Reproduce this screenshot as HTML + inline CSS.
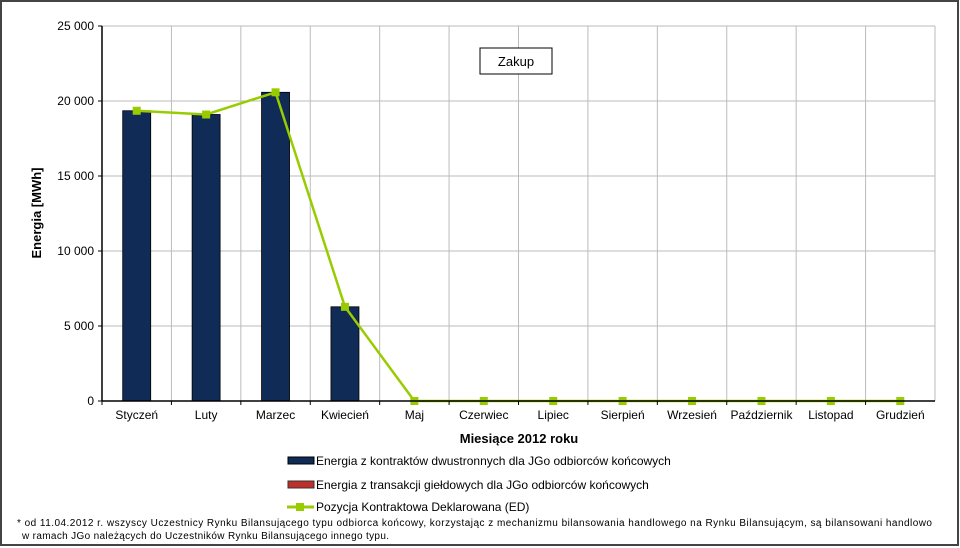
<!DOCTYPE html>
<html><head><meta charset="utf-8"><style>
body{margin:0;background:#fff;}
svg{display:block;font-family:"Liberation Sans",sans-serif;}
</style></head><body>
<svg width="960" height="548" viewBox="0 0 960 548" id="chart">
<rect x="1" y="1" width="957" height="544" fill="#fff" stroke="#444" stroke-width="2"/>
<g id="grid"></g>
<g id="bars"></g>
<g id="line"></g>
<g id="axes"></g>
<rect x="480" y="48" width="72" height="26" fill="#fff" stroke="#000" stroke-width="1"/>
<text x="516" y="66" font-size="13" text-anchor="middle">Zakup</text>
<text transform="translate(41,213) rotate(-90)" font-size="13" font-weight="bold" text-anchor="middle">Energia [MWh]</text>
<text x="519" y="443" font-size="13" font-weight="bold" text-anchor="middle">Miesiące 2012 roku</text>
<g>
<g><rect x="288" y="457" width="26" height="7" fill="#112b57" stroke="#000" stroke-width="1"/><text x="316" y="465" font-size="12">Energia z kontraktów dwustronnych dla JGo odbiorców końcowych</text></g>
<g><rect x="288" y="481" width="26" height="7" fill="#c0302b" stroke="#333" stroke-width="1"/><text x="316" y="489" font-size="12">Energia z transakcji giełdowych dla JGo odbiorców końcowych</text></g>
<g><line x1="287" y1="507" x2="314" y2="507" stroke="#99cc00" stroke-width="3"/><rect x="296" y="503" width="8" height="8" fill="#99cc00"/><text x="316" y="511" font-size="12">Pozycja Kontraktowa Deklarowana (ED)</text></g>
</g>
<text x="17" y="526" font-size="10" textLength="915" lengthAdjust="spacing">* od 11.04.2012 r. wszyscy Uczestnicy Rynku Bilansującego typu odbiorca końcowy, korzystając z mechanizmu bilansowania handlowego  na Rynku Bilansującym, są bilansowani handlowo</text>
<text x="22" y="539" font-size="10" textLength="367" lengthAdjust="spacing">w ramach JGo należących do Uczestników  Rynku Bilansującego  innego typu.</text>
</svg>
<script>
const months=["Styczeń","Luty","Marzec","Kwiecień","Maj","Czerwiec","Lipiec","Sierpień","Wrzesień","Październik","Listopad","Grudzień"];
const bilateral=[19350,19100,20580,6280,0,0,0,0,0,0,0,0];
const exchange=[0,0,0,0,0,0,0,0,0,0,0,0];
const edPosition=[19350,19100,20580,6280,0,0,0,0,0,0,0,0];
const yTicks=[0,5000,10000,15000,20000,25000];
const yTickLabels=["0","5 000","10 000","15 000","20 000","25 000"];
const NS="http://www.w3.org/2000/svg";
const L=102,R=935,T=26,B=401,YMAX=25000;
const step=(R-L)/months.length;
const xc=i=>L+step*(i+0.5);
const y=v=>B-(v/YMAX)*(B-T);
function mk(tag,attrs,parent){const e=document.createElementNS(NS,tag);for(const k in attrs)e.setAttribute(k,attrs[k]);parent.appendChild(e);return e;}
const grid=document.getElementById('grid'),bars=document.getElementById('bars'),line=document.getElementById('line'),axes=document.getElementById('axes');
yTicks.forEach((t,i)=>{
 if(t>0){const g=mk('line',{x1:L,x2:R,y1:y(t),y2:y(t),stroke:'#bbb','stroke-width':1},grid);
 
 }
 const tk=mk('line',{x1:L-4,x2:L,y1:y(t),y2:y(t),stroke:'#000'},axes);
 
 
 const tx=mk('text',{x:L-8,y:y(t)+4,'font-size':12,'text-anchor':'end'},axes);tx.textContent=yTickLabels[i];
 
 
});
for(let i=1;i<=months.length;i++){const g=mk('line',{x1:L+step*i,x2:L+step*i,y1:T,y2:B,stroke:'#bbb'},grid);
 
 }
const plotTop=mk('line',{x1:L,x2:R,y1:T,y2:T,stroke:'#bbb'},grid);


months.forEach((m,i)=>{
 if(bilateral[i]>0){const b=mk('rect',{x:xc(i)-14,y:y(bilateral[i]),width:28,height:B-y(bilateral[i]),fill:'#112b57',stroke:'#000','stroke-width':0.8},bars);
 
 }
 if(exchange[i]>0){const b=mk('rect',{x:xc(i)-14,y:y(bilateral[i]+exchange[i]),width:28,height:y(bilateral[i])-y(bilateral[i]+exchange[i]),fill:'#c0302b'},bars);
 
 }
 const tx=mk('text',{x:xc(i),y:B+18,'font-size':12,'text-anchor':'middle'},axes);tx.textContent=m;
 
 
 const tk=mk('line',{x1:L+step*i,x2:L+step*i,y1:B,y2:B+4,stroke:'#000'},axes);
 
 
});
const pl=mk('polyline',{points:edPosition.map((v,i)=>xc(i)+','+y(v)).join(' '),fill:'none',stroke:'#99cc00','stroke-width':2.5},line);


edPosition.forEach((v,i)=>{const p=mk('rect',{x:xc(i)-4,y:y(v)-4,width:8,height:8,fill:'#99cc00'},line);
 
 });
const ya=mk('line',{x1:L,x2:L,y1:T,y2:B,stroke:'#000','stroke-width':1.5},axes);


const xa=mk('line',{x1:L,x2:R,y1:B,y2:B,stroke:'#000','stroke-width':1.5},axes);


</script>
</body></html>
